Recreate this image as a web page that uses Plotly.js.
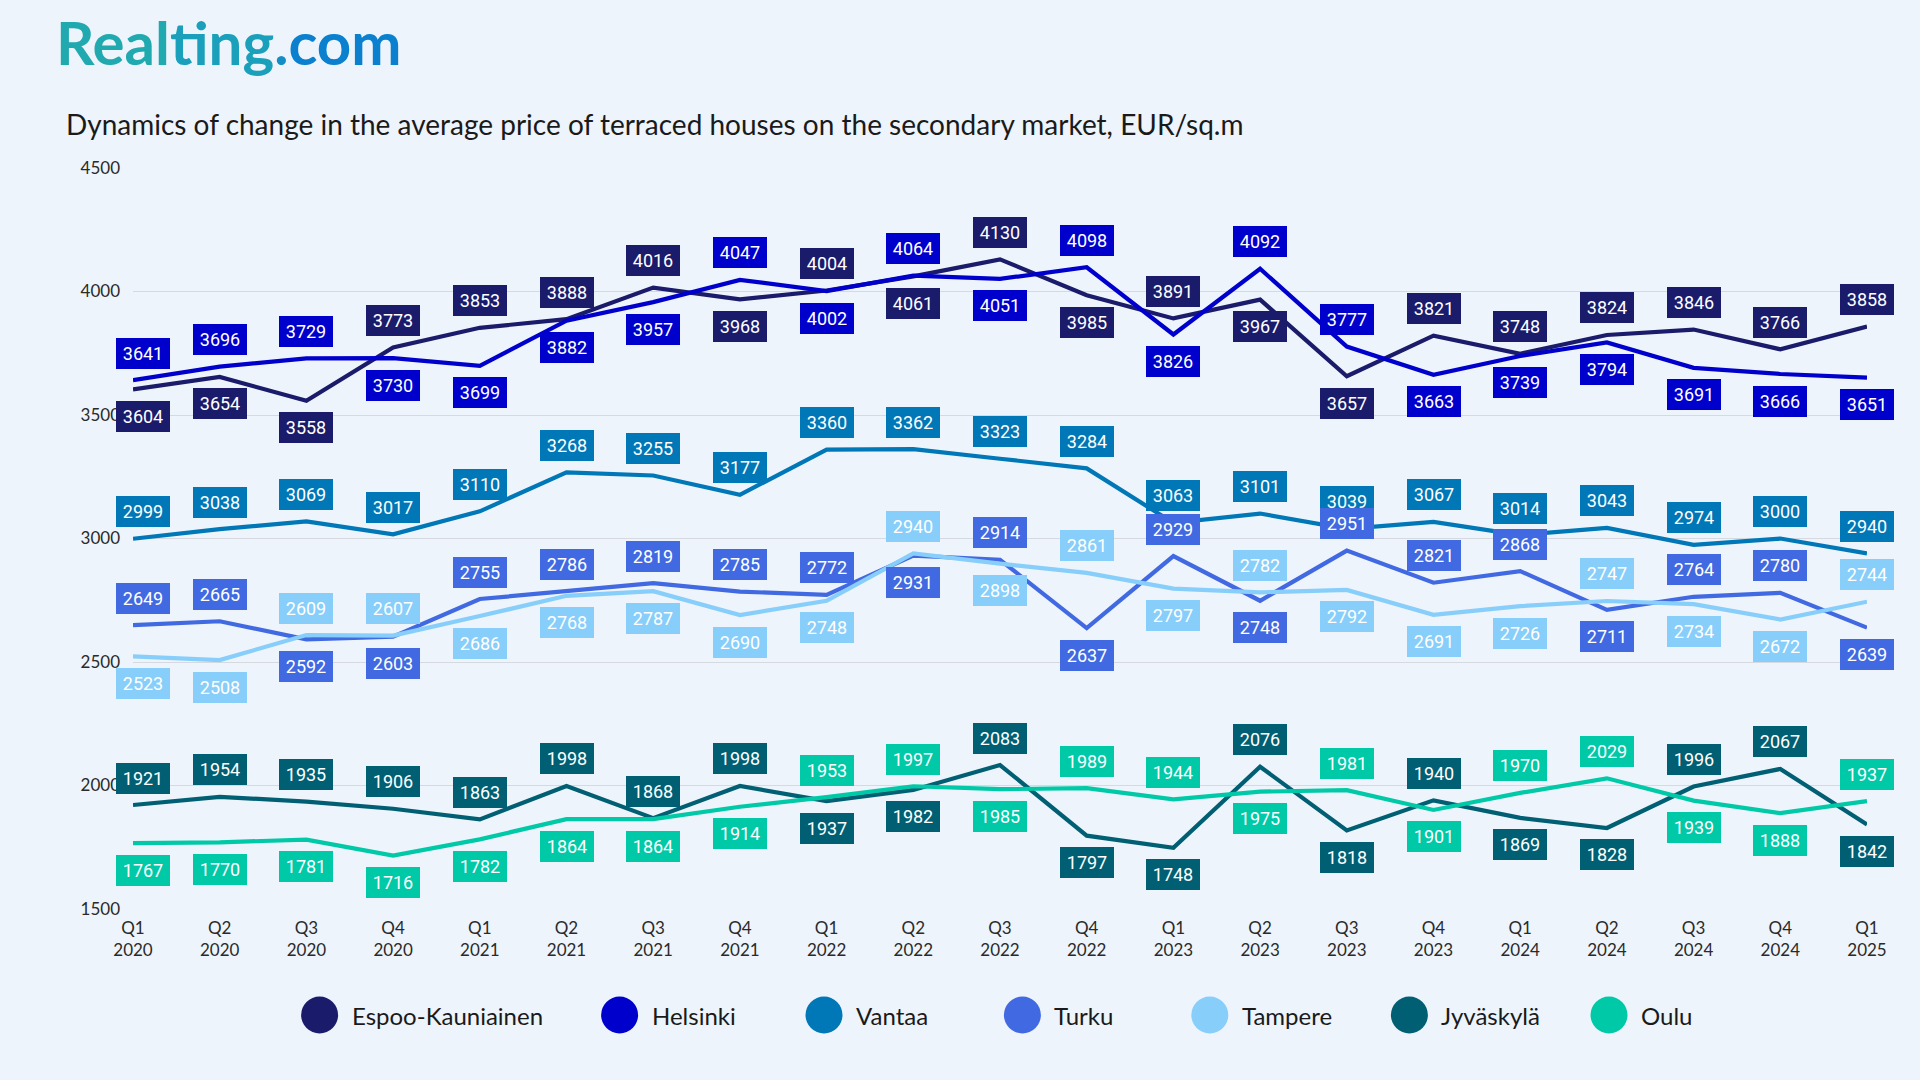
<!DOCTYPE html>
<html>
<head>
<meta charset="utf-8">
<script src="https://cdn.plot.ly/plotly-3.0.1.min.js"></script>
<style>
  html, body { margin: 0; padding: 0; background: #eef4fb; }
  #chart { width: 1920px; height: 1080px; }
</style>
</head>
<body>
<div id="chart"></div>
<script>
// ---------- DATA ----------
const quarters = [
  "Q1<br>2020","Q2<br>2020","Q3<br>2020","Q4<br>2020",
  "Q1<br>2021","Q2<br>2021","Q3<br>2021","Q4<br>2021",
  "Q1<br>2022","Q2<br>2022","Q3<br>2022","Q4<br>2022",
  "Q1<br>2023","Q2<br>2023","Q3<br>2023","Q4<br>2023",
  "Q1<br>2024","Q2<br>2024","Q3<br>2024","Q4<br>2024",
  "Q1<br>2025"
];
const seriesNames = ["Espoo-Kauniainen","Helsinki","Vantaa","Turku","Tampere","Jyväskylä","Oulu"];

const espoo     = [3604,3654,3558,3773,3853,3888,4016,3968,4004,4061,4130,3985,3891,3967,3657,3821,3748,3824,3846,3766,3858];
const helsinki  = [3641,3696,3729,3730,3699,3882,3957,4047,4002,4064,4051,4098,3826,4092,3777,3663,3739,3794,3691,3666,3651];
const vantaa    = [2999,3038,3069,3017,3110,3268,3255,3177,3360,3362,3323,3284,3063,3101,3039,3067,3014,3043,2974,3000,2940];
const turku     = [2649,2665,2592,2603,2755,2786,2819,2785,2772,2931,2914,2637,2929,2748,2951,2821,2868,2711,2764,2780,2639];
const tampere   = [2523,2508,2609,2607,2686,2768,2787,2690,2748,2940,2898,2861,2797,2782,2792,2691,2726,2747,2734,2672,2744];
const jyvaskyla = [1921,1954,1935,1906,1863,1998,1868,1998,1937,1982,2083,1797,1748,2076,1818,1940,1869,1828,1996,2067,1842];
const oulu      = [1767,1770,1781,1716,1782,1864,1864,1914,1953,1997,1985,1989,1944,1975,1981,1901,1970,2029,1939,1888,1937];

const yTicks = [1500,2000,2500,3000,3500,4000,4500];

// ---------- STYLE ----------
const seriesValues = [espoo, helsinki, vantaa, turku, tampere, jyvaskyla, oulu];
const colors = ["#1b1b6b","#0000cd","#0077b6","#4169e1","#87cefa","#005f73","#00c9a7"];
// label partner (labels go above when the series is higher than its partner)
const partner = [1, 0, -1, 4, 3, 6, 5];

const M = { l: 133, r: 53, t: 168, b: 171 };
const W = 1920 - M.l - M.r, H = 1080 - M.t - M.b;
const px = x => (x - M.l) / W;
const py = y => (1080 - M.b - y) / H;

const traces = seriesValues.map((vals, k) => ({
  type: "scatter", mode: "lines",
  x: quarters, y: vals, name: seriesNames[k],
  line: { color: colors[k], width: 4.2 },
  hoverinfo: "skip", showlegend: false
}));

const annotations = [];
// data labels
seriesValues.forEach((vals, k) => {
  vals.forEach((v, i) => {
    let above = true;
    if (partner[k] >= 0) above = v >= seriesValues[partner[k]][i];
    annotations.push({
      x: quarters[i], y: v, xref: "x", yref: "y",
      text: String(v), showarrow: false,
      font: { family: "Roboto, sans-serif", size: 18, color: "#ffffff" },
      bgcolor: colors[k], borderpad: 5, borderwidth: 0,
      width: 44, height: 21,
      xshift: i === 0 ? 10 : 0,
      yshift: above ? 27 : -27
    });
  });
});

// logo
annotations.push({
  xref: "paper", yref: "paper", x: px(54), y: py(42), xanchor: "left", yanchor: "middle",
  showarrow: false,
  text: '<b><span style="color:#21a9b0">Real</span><span style="color:#1aa0bb">ting</span><span style="color:#138fc6">.</span><span style="color:#0a80cf">com</span></b>',
  font: { family: "Lato, sans-serif", size: 60 }
});
// title
annotations.push({
  xref: "paper", yref: "paper", x: px(64), y: py(124), xanchor: "left", yanchor: "middle",
  showarrow: false,
  text: "Dynamics of change in the average price of terraced houses on the secondary market, EUR/sq.m",
  font: { family: "Lato, sans-serif", size: 28, color: "#1a1a1a" }
});

// custom legend
const legendCx = [319.6, 619.6, 824, 1022.4, 1209.8, 1409.4, 1609];
const legendY = 1015;
const shapes = [];
seriesNames.forEach((name, k) => {
  shapes.push({
    type: "circle", xref: "paper", yref: "paper",
    xsizemode: "pixel", ysizemode: "pixel",
    xanchor: px(legendCx[k]), yanchor: py(legendY),
    x0: -18.5, x1: 18.5, y0: -18.5, y1: 18.5,
    fillcolor: colors[k], line: { width: 0 }
  });
  annotations.push({
    xref: "paper", yref: "paper", x: px(legendCx[k] + 30), y: py(legendY),
    xanchor: "left", yanchor: "middle", showarrow: false,
    text: name, font: { family: "Lato, sans-serif", size: 24, color: "#1a1a1a" }
  });
});

const layout = {
  width: 1920, height: 1080,
  margin: M,
  paper_bgcolor: "#eef4fb", plot_bgcolor: "#eef4fb",
  showlegend: false,
  xaxis: {
    type: "category", range: [0, quarters.length - 1],
    showgrid: false, zeroline: false, showline: false, ticks: "",
    tickfont: { family: "Lato, sans-serif", size: 17, color: "#2a2a2a" },
    ticklabelstandoff: 7
  },
  yaxis: {
    range: [1500, 4500], tickvals: yTicks, ticktext: yTicks.map(String),
    showgrid: true, gridcolor: "#d6dae0", gridwidth: 1,
    zeroline: false, showline: false, ticks: "",
    tickfont: { family: "Lato, sans-serif", size: 17, color: "#2a2a2a" },
    ticklabelstandoff: 12
  },
  annotations: annotations,
  shapes: shapes
};

Plotly.newPlot("chart", traces, layout, { displayModeBar: false, staticPlot: true });
</script>
</body>
</html>
